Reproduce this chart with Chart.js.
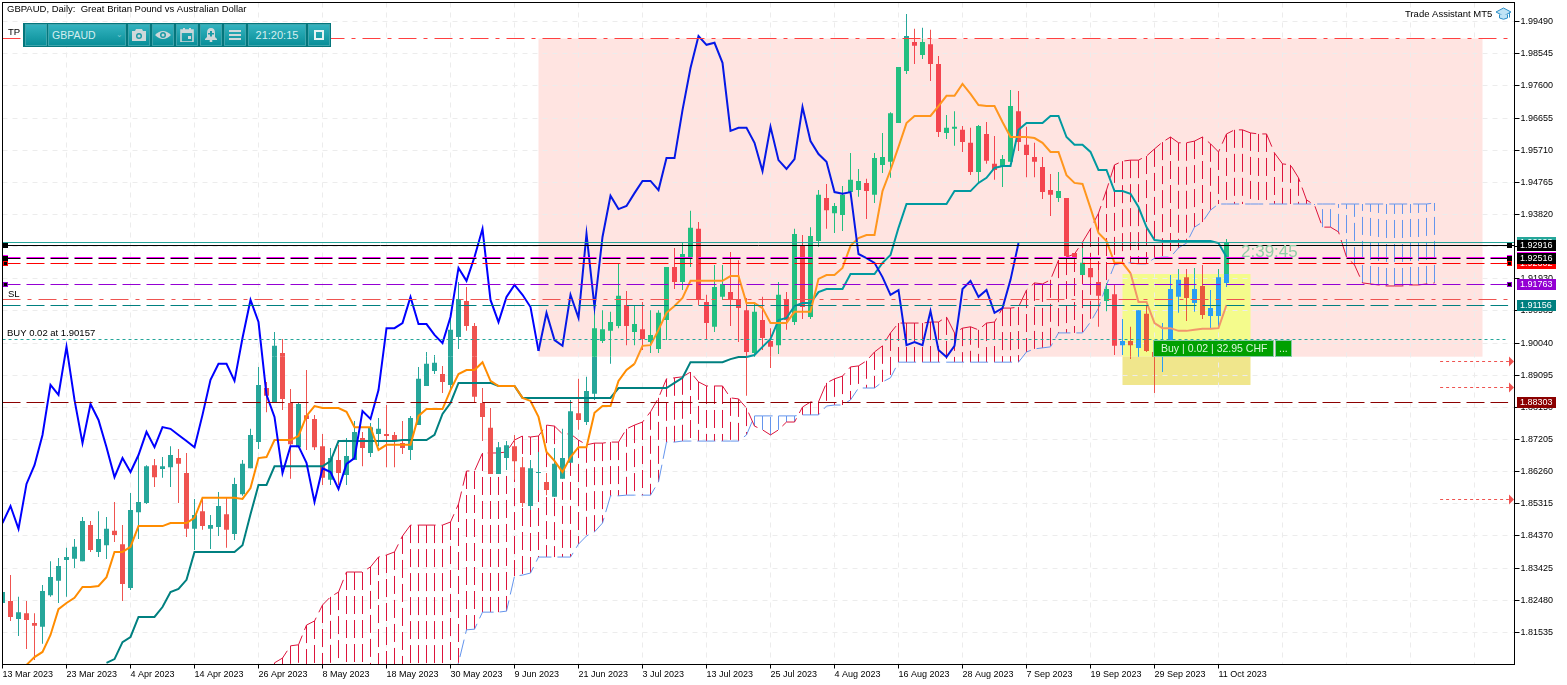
<!DOCTYPE html>
<html>
<head>
<meta charset="utf-8">
<title>GBPAUD Daily</title>
<script src="https://cdn.jsdelivr.net/npm/chart.js@4/dist/chart.umd.min.js"></script>
<style>
  html, body { margin: 0; padding: 0; background: #fff; overflow: hidden; }
  #wrap { position: relative; width: 1567px; height: 685px; }
  #myChart { position: absolute; left: 0; top: 0; }
  #toolbar { position: absolute; left: 23px; top: 23px; width: 308px; height: 24px; background: #04767c; }
  #toolbar div { position: absolute; top: 1px; height: 22px; box-sizing: border-box; border: 1px solid #3fa5ad;
    background: linear-gradient(#33b3bf, #0a8f99); color: #d4eef0; font: 10.5px "Liberation Sans", sans-serif;
    line-height: 20px; text-align: center; }
  #toolbar svg { display: block; margin: 3px auto 0; }
  #hat { position: absolute; left: 1496px; top: 7px; }
</style>
</head>
<body>
<div id="wrap">
  <canvas id="myChart" width="1567" height="685"></canvas>
  <div id="toolbar">
    <div style="left:2px;width:22px"></div>
    <div style="left:25px;width:78px;text-align:left;padding-left:3px">GBPAUD<span style="position:absolute;left:67px;top:0;color:#7cc5cc;font-size:8px">&#8964;</span></div>
    <div style="left:105px;width:22px"><svg width="14" height="14" viewBox="0 0 14 14"><path d="M0 3h3l1-2h6l1 2h3v10H0z" fill="#cfd8da"/><circle cx="7" cy="8" r="3" fill="#1a9aa5"/><circle cx="7" cy="8" r="1.6" fill="#cfd8da"/></svg></div>
    <div style="left:129px;width:22px"><svg width="16" height="14" viewBox="0 0 16 14"><path d="M0 7q8-8 16 0q-8 8-16 0z" fill="#cfd8da"/><circle cx="8" cy="7" r="3" fill="#1a9aa5"/><circle cx="8" cy="7" r="1.5" fill="#cfd8da"/></svg></div>
    <div style="left:153px;width:22px"><svg width="14" height="14" viewBox="0 0 14 14"><path d="M1 2h12v12H1z" fill="none" stroke="#cfd8da" stroke-width="1.6"/><path d="M1 2h12v3H1zM3 0h2v3H3zM9 0h2v3H9zM8 8h3v3H8z" fill="#cfd8da"/></svg></div>
    <div style="left:177px;width:22px"><svg width="14" height="14" viewBox="0 0 14 14"><path d="M7 0q4 0 4 5v4l2 2v1H1v-1l2-2V5q0-5 4-5z" fill="#cfd8da"/><circle cx="7" cy="13" r="1.4" fill="#cfd8da"/><path d="M6 3h2v2h2v1.6H8v2H6v-2H4V5h2z" fill="#1a9aa5"/></svg></div>
    <div style="left:201px;width:22px"><svg width="14" height="14" viewBox="0 0 14 14"><path d="M1 2h12v2H1zM1 6h12v2H1zM1 10h12v2H1z" fill="#cfd8da"/></svg></div>
    <div style="left:225px;width:58px;font-size:11px">21:20:15</div>
    <div style="left:285px;width:22px"><svg width="12" height="14" viewBox="0 0 12 14"><path d="M2 3h8v8H2z" fill="none" stroke="#e6f3f4" stroke-width="2"/></svg></div>
  </div>
  <svg id="hat" width="15" height="14" viewBox="0 0 15 14"><path d="M0 5l7.5-4 7.5 4-7.5 4z" fill="#bfe3f5" stroke="#2e8fc7"/><path d="M3.5 7.5v3.5q4 2.5 8 0V7.5" fill="#bfe3f5" stroke="#2e8fc7"/><path d="M13.5 5.5v5" stroke="#2e8fc7"/></svg>
</div>
<script>
// candles, one entry per day starting at 13 Mar 2023
const opens = [1.8240,1.8246,1.8193,1.8210,1.8181,1.8170,1.8263,1.8305,1.8366,1.8370,1.8363,1.8469,1.8390,1.8410,1.8452,1.8413,1.8284,1.8507,1.8534,1.8645,
  1.8634,1.8639,1.8666,1.8622,1.8458,1.8510,1.8458,1.8463,1.8501,1.8443,1.8560,1.8636,1.8713,1.8872,1.8831,1.8975,1.8828,1.8698,1.8792,1.8781,
  1.8701,1.8602,1.8660,1.8616,1.8660,1.8725,1.8681,1.8737,1.8737,1.8734,1.8710,1.8690,1.8763,1.8878,1.8922,1.8913,1.8881,1.9022,1.9128,1.9054,
  1.8828,1.8755,1.8619,1.8666,1.8701,1.8639,1.8525,1.8622,1.8596,1.8552,1.8605,1.8652,1.8798,1.8772,1.8855,1.9010,1.9040,1.9054,1.9116,1.9037,
  1.9045,1.9007,1.8987,1.9072,1.9228,1.9184,1.9257,1.9340,1.9125,1.9052,1.9140,1.9154,1.9134,1.9101,1.8975,1.9072,1.9010,1.8998,1.9134,1.9066,
  1.9290,1.9081,1.9304,1.9431,1.9386,1.9381,1.9448,1.9454,1.9475,1.9440,1.9528,1.9537,1.9651,1.9804,1.9889,1.9851,1.9883,1.9825,1.9622,1.9634,
  1.9631,1.9593,1.9507,1.9619,1.9531,1.9525,1.9537,1.9686,1.9587,1.9551,1.9522,1.9454,1.9431,1.9431,1.9269,1.9204,1.9225,1.9184,1.9128,1.9148,
  1.8998,1.9010,1.8990,1.9090,1.8978,1.8978,1.9004,1.9140,1.9198,1.9122,1.9172,1.9084,1.9084,1.9181];
const closes = [1.8272,1.8199,1.8213,1.8190,1.8173,1.8275,1.8316,1.8349,1.8375,1.8405,1.8481,1.8396,1.8428,1.8458,1.8440,1.8296,1.8513,1.8537,1.8642,1.8610,
  1.8642,1.8675,1.8649,1.8458,1.8499,1.8466,1.8469,1.8525,1.8455,1.8590,1.8649,1.8734,1.8881,1.8849,1.8996,1.8840,1.8707,1.8825,1.8781,1.8698,
  1.8608,1.8666,1.8622,1.8672,1.8743,1.8696,1.8757,1.8752,1.8731,1.8719,1.8696,1.8784,1.8899,1.8943,1.8946,1.8890,1.9043,1.9134,1.9054,1.8846,
  1.8787,1.8619,1.8698,1.8704,1.8657,1.8534,1.8636,1.8625,1.8572,1.8649,1.8666,1.8804,1.8778,1.8863,1.9048,1.9045,1.9066,1.9143,1.9054,1.9060,
  1.9016,1.9028,1.9093,1.9228,1.9184,1.9266,1.9343,1.9131,1.9063,1.9169,1.9178,1.9134,1.9107,1.8978,1.9096,1.9019,1.8993,1.9146,1.9072,1.9325,
  1.9110,1.9319,1.9440,1.9395,1.9407,1.9440,1.9484,1.9481,1.9451,1.9548,1.9551,1.9680,1.9816,1.9907,1.9878,1.9889,1.9825,1.9625,1.9637,1.9640,
  1.9595,1.9507,1.9642,1.9540,1.9513,1.9545,1.9701,1.9595,1.9557,1.9537,1.9448,1.9440,1.9451,1.9260,1.9251,1.9240,1.9198,1.9143,1.9163,1.8996,
  1.9010,1.8998,1.9101,1.8981,1.8963,1.9013,1.9163,1.9190,1.9137,1.9163,1.9087,1.9107,1.9198,1.9301];
const highs = [1.8278,1.8322,1.8258,1.8246,1.8210,1.8293,1.8363,1.8372,1.8402,1.8428,1.8493,1.8481,1.8510,1.8493,1.8537,1.8469,1.8563,1.8675,1.8645,1.8663,
  1.8669,1.8701,1.8693,1.8681,1.8546,1.8546,1.8499,1.8566,1.8549,1.8608,1.8660,1.8752,1.8934,1.8890,1.9037,1.9016,1.8869,1.8831,1.8925,1.8793,
  1.8737,1.8696,1.8705,1.8725,1.8775,1.8743,1.8769,1.8784,1.8822,1.8743,1.8775,1.8790,1.8934,1.8978,1.8969,1.8937,1.9078,1.9184,1.9169,1.9063,
  1.8872,1.8813,1.8713,1.8716,1.8734,1.8669,1.8660,1.8684,1.8622,1.8696,1.8752,1.8837,1.8899,1.8905,1.9101,1.9101,1.9096,1.9237,1.9157,1.9116,
  1.9125,1.9101,1.9101,1.9228,1.9284,1.9298,1.9393,1.9360,1.9146,1.9234,1.9234,1.9272,1.9248,1.9137,1.9125,1.9140,1.9048,1.9184,1.9154,1.9340,
  1.9322,1.9345,1.9454,1.9472,1.9416,1.9466,1.9563,1.9516,1.9487,1.9563,1.9622,1.9683,1.9816,1.9972,1.9928,1.9931,1.9925,1.9848,1.9675,1.9686,
  1.9642,1.9637,1.9645,1.9654,1.9613,1.9557,1.9748,1.9745,1.9640,1.9593,1.9551,1.9501,1.9507,1.9431,1.9269,1.9284,1.9248,1.9219,1.9181,1.9175,
  1.9075,1.9052,1.9101,1.9116,1.9013,1.9063,1.9204,1.9222,1.9222,1.9225,1.9234,1.9160,1.9222,1.9310];
const lows = [1.8190,1.8187,1.8143,1.8105,1.8072,1.8120,1.8258,1.8240,1.8258,1.8343,1.8363,1.8390,1.8375,1.8369,1.8419,1.8246,1.8278,1.8428,1.8531,1.8581,
  1.8608,1.8581,1.8534,1.8434,1.8396,1.8455,1.8399,1.8437,1.8402,1.8425,1.8555,1.8636,1.8693,1.8801,1.8831,1.8807,1.8605,1.8698,1.8690,1.8690,
  1.8587,1.8587,1.8587,1.8587,1.8660,1.8642,1.8669,1.8701,1.8639,1.8639,1.8678,1.8660,1.8763,1.8878,1.8913,1.8857,1.8866,1.8987,1.9040,1.8828,
  1.8716,1.8619,1.8619,1.8631,1.8602,1.8522,1.8513,1.8572,1.8557,1.8552,1.8605,1.8652,1.8749,1.8763,1.8837,1.9004,1.8943,1.9048,1.8998,1.8998,
  1.8984,1.8975,1.8975,1.9013,1.9163,1.9160,1.9228,1.9116,1.9013,1.9037,1.9131,1.9054,1.9007,1.8849,1.8963,1.8984,1.8931,1.8972,1.9043,1.9057,
  1.9075,1.9075,1.9287,1.9340,1.9328,1.9334,1.9448,1.9434,1.9369,1.9416,1.9504,1.9490,1.9651,1.9795,1.9825,1.9839,1.9775,1.9610,1.9604,1.9584,
  1.9566,1.9498,1.9478,1.9531,1.9484,1.9463,1.9537,1.9569,1.9492,1.9492,1.9428,1.9378,1.9419,1.9254,1.9248,1.9204,1.9181,1.9052,1.9098,1.8969,
  1.8969,1.8957,1.8963,1.8978,1.8857,1.8919,1.8998,1.9093,1.9069,1.9096,1.9075,1.9046,1.9046,1.9169];

// ichimoku lines
const chikou = [1.8475,1.8525,1.8458,1.8590,1.8645,1.8734,1.8881,1.8852,1.8993,1.8837,1.8710,1.8825,1.8778,1.8698,1.8610,1.8666,1.8625,1.8675,1.8743,1.8698,
  1.8757,1.8752,1.8734,1.8716,1.8698,1.8793,1.8896,1.8943,1.8943,1.8893,1.9019,1.9131,1.9066,1.8852,1.8787,1.8622,1.8701,1.8701,1.8652,1.8537,
  1.8636,1.8625,1.8575,1.8649,1.8666,1.8804,1.8781,1.8866,1.9048,1.9048,1.9063,1.9140,1.9060,1.9060,1.9028,1.9004,1.9081,1.9225,1.9187,1.9257,
  1.9340,1.9131,1.9066,1.9140,1.9175,1.9146,1.9110,1.8981,1.9093,1.9013,1.8996,1.9146,1.9078,1.9325,1.9110,1.9316,1.9437,1.9398,1.9407,1.9445,
  1.9481,1.9481,1.9454,1.9548,1.9548,1.9689,1.9813,1.9907,1.9881,1.9887,1.9828,1.9628,1.9637,1.9637,1.9593,1.9510,1.9640,1.9542,1.9516,1.9545,
  1.9698,1.9598,1.9560,1.9537,1.9448,1.9443,1.9448,1.9266,1.9254,1.9240,1.9198,1.9146,1.9160,1.8998,1.9007,1.8998,1.9098,1.8984,1.8963,1.8996,
  1.9163,1.9187,1.9140,1.9160,1.9093,1.9107,1.9190,1.9298];
const tenkanStart = 3;
const tenkan = [1.8058,1.8081,1.8096,1.8146,1.8222,1.8240,1.8255,1.8287,1.8287,1.8290,1.8316,1.8390,1.8390,1.8405,1.8466,1.8466,1.8466,1.8466,1.8475,1.8475,
  1.8475,1.8490,1.8549,1.8549,1.8549,1.8549,1.8549,1.8546,1.8578,1.8666,1.8669,1.8719,1.8719,1.8719,1.8731,1.8790,1.8819,1.8813,1.8813,1.8813,
  1.8802,1.8757,1.8757,1.8757,1.8690,1.8705,1.8705,1.8705,1.8705,1.8790,1.8810,1.8810,1.8810,1.8866,1.8913,1.8925,1.8925,1.8948,1.8893,1.8878,
  1.8878,1.8878,1.8843,1.8834,1.8787,1.8684,1.8658,1.8625,1.8669,1.8698,1.8698,1.8799,1.8819,1.8819,1.8893,1.8925,1.8943,1.8996,1.8998,1.9043,
  1.9093,1.9113,1.9137,1.9187,1.9187,1.9187,1.9187,1.9187,1.9201,1.9201,1.9122,1.9122,1.9107,1.9063,1.9063,1.9063,1.9096,1.9096,1.9096,1.9193,
  1.9204,1.9204,1.9225,1.9290,1.9313,1.9322,1.9322,1.9451,1.9513,1.9581,1.9651,1.9672,1.9672,1.9672,1.9701,1.9731,1.9731,1.9766,1.9737,1.9704,
  1.9701,1.9701,1.9654,1.9610,1.9610,1.9610,1.9607,1.9593,1.9566,1.9566,1.9498,1.9475,1.9472,1.9401,1.9328,1.9304,1.9240,1.9240,1.9210,1.9125,
  1.9125,1.9063,1.9048,1.9048,1.9040,1.9040,1.9043,1.9046,1.9046,1.9048,1.9116];
const kijunStart = 13;
const kijun = [1.8064,1.8075,1.8125,1.8140,1.8199,1.8199,1.8199,1.8228,1.8272,1.8281,1.8308,1.8390,1.8390,1.8390,1.8390,1.8390,1.8390,1.8410,1.8501,1.8587,
  1.8587,1.8642,1.8642,1.8642,1.8642,1.8642,1.8642,1.8642,1.8657,1.8716,1.8716,1.8716,1.8716,1.8716,1.8716,1.8716,1.8716,1.8719,1.8719,1.8719,
  1.8719,1.8734,1.8796,1.8828,1.8887,1.8887,1.8887,1.8887,1.8887,1.8878,1.8878,1.8878,1.8843,1.8843,1.8843,1.8843,1.8843,1.8843,1.8843,1.8843,
  1.8843,1.8843,1.8843,1.8843,1.8872,1.8872,1.8872,1.8872,1.8872,1.8872,1.8872,1.8887,1.8902,1.8948,1.8948,1.8948,1.8948,1.8948,1.8957,1.8963,
  1.8963,1.8969,1.8993,1.9016,1.9072,1.9078,1.9113,1.9122,1.9122,1.9154,1.9163,1.9163,1.9163,1.9207,1.9207,1.9207,1.9207,1.9240,1.9263,1.9343,
  1.9413,1.9413,1.9413,1.9413,1.9413,1.9413,1.9451,1.9451,1.9451,1.9475,1.9490,1.9519,1.9525,1.9525,1.9631,1.9651,1.9651,1.9651,1.9672,1.9672,
  1.9610,1.9587,1.9587,1.9566,1.9513,1.9513,1.9451,1.9451,1.9443,1.9404,1.9345,1.9307,1.9304,1.9304,1.9304,1.9304,1.9304,1.9304,1.9304,1.9298,1.9257];
const cloudStart = 34;
const senkouA = [1.8064,1.8078,1.8114,1.8117,1.8175,1.8187,1.8234,1.8258,1.8272,1.8331,1.8331,1.8331,1.8346,1.8375,1.8381,1.8390,1.8437,1.8469,1.8469,1.8469,
  1.8469,1.8469,1.8478,1.8531,1.8628,1.8628,1.8681,1.8681,1.8681,1.8684,1.8719,1.8731,1.8728,1.8731,1.8763,1.8760,1.8737,1.8737,1.8719,1.8705,
  1.8710,1.8710,1.8713,1.8713,1.8752,1.8763,1.8772,1.8802,1.8843,1.8899,1.8902,1.8905,1.8919,1.8890,1.8878,1.8878,1.8878,1.8843,1.8840,1.8813,
  1.8760,1.8749,1.8734,1.8749,1.8772,1.8772,1.8816,1.8831,1.8831,1.8887,1.8899,1.8907,1.8934,1.8937,1.8952,1.8978,1.8996,1.9034,1.9063,1.9063,
  1.9063,1.9063,1.9066,1.9066,1.9081,1.9034,1.9048,1.9052,1.9043,1.9063,1.9066,1.9107,1.9107,1.9110,1.9160,1.9181,1.9178,1.9190,1.9248,1.9257,
  1.9266,1.9301,1.9340,1.9386,1.9454,1.9528,1.9539,1.9542,1.9542,1.9554,1.9575,1.9595,1.9610,1.9593,1.9593,1.9598,1.9610,1.9590,1.9566,1.9619,
  1.9631,1.9631,1.9622,1.9619,1.9619,1.9563,1.9531,1.9528,1.9490,1.9425,1.9410,1.9345,1.9345,1.9331,1.9257,1.9234,1.9181,1.9178,1.9175,1.9172,
  1.9172,1.9172,1.9175,1.9175,1.9178,1.9181];
const senkouB = [1.7650,1.7650,1.7700,1.7700,1.7700,1.7700,1.7720,1.7720,1.7750,1.7780,1.7780,1.7780,1.7780,1.7800,1.7830,1.7850,1.7850,1.7870,1.7900,1.7920,
  1.7920,1.7950,1.8000,1.8064,1.8161,1.8163,1.8213,1.8213,1.8213,1.8216,1.8319,1.8322,1.8328,1.8375,1.8375,1.8375,1.8375,1.8375,1.8413,1.8437,
  1.8449,1.8475,1.8555,1.8555,1.8557,1.8557,1.8557,1.8557,1.8596,1.8713,1.8713,1.8716,1.8716,1.8716,1.8716,1.8716,1.8716,1.8716,1.8716,1.8734,
  1.8790,1.8790,1.8790,1.8790,1.8790,1.8790,1.8793,1.8793,1.8793,1.8819,1.8822,1.8822,1.8837,1.8872,1.8872,1.8872,1.8890,1.8902,1.8948,1.8948,
  1.8948,1.8948,1.8948,1.8948,1.8948,1.8948,1.8948,1.8948,1.8948,1.8948,1.8948,1.8948,1.8948,1.8948,1.8978,1.8987,1.8990,1.8993,1.9034,1.9034,
  1.9034,1.9034,1.9066,1.9107,1.9175,1.9234,1.9240,1.9240,1.9237,1.9237,1.9254,1.9257,1.9257,1.9284,1.9298,1.9345,1.9360,1.9395,1.9413,1.9413,
  1.9413,1.9413,1.9413,1.9413,1.9413,1.9413,1.9413,1.9413,1.9413,1.9413,1.9413,1.9413,1.9413,1.9413,1.9413,1.9413,1.9413,1.9413,1.9413,1.9413,
  1.9413,1.9413,1.9413,1.9413,1.9413,1.9416];

// axes
const priceTicks = [1.99490,1.98545,1.97600,1.96655,1.95710,1.94765,1.93820,1.92875,1.91930,1.90985,1.90040,1.89095,1.88150,1.87205,1.86260,1.85315,1.84370,1.83425,1.82480,1.81535];
const dateLabels = ['13 Mar 2023','23 Mar 2023','4 Apr 2023','14 Apr 2023','26 Apr 2023','8 May 2023','18 May 2023','30 May 2023','9 Jun 2023','21 Jun 2023',
  '3 Jul 2023','13 Jul 2023','25 Jul 2023','4 Aug 2023','16 Aug 2023','28 Aug 2023','7 Sep 2023','19 Sep 2023','29 Sep 2023','11 Oct 2023'];
const dateStep = 8, lastGridBar = 184;
const priceMin = 1.80591, priceMax = 2.000545, barMax = 189;

// horizontal levels
const levelPrices = [1.98996, 1.92993, 1.92916, 1.92558, 1.92516, 1.92382, 1.91763, 1.91323, 1.91156, 1.90157, 1.88303];
const levelStyles = [
  ['#ff4040', [18,7,4,7]], ['#26a69a', []], ['#000000', []], ['#ff00ff', [18,6]], ['#000000', [18,6]], ['#ff0000', [18,6]],
  ['#9400d3', [18,6]], ['#ef5350', [18,7,4,7]], ['#008080', [18,6]], ['#26a69a', [3,3]], ['#8b0000', [18,6]]
];
const arrowPrices = [1.89506, 1.88741, 1.85449];

// price flags on the right edge
const flagPrices = [1.92993, 1.92382, 1.92558, 1.92916, 1.92516, 1.91763, 1.91156, 1.88303];
const flagTexts = ['1.92993', '1.92302', '1.92558', '1.92916', '1.92516', '1.91763', '1.91156', '1.88303'];
const flagColors = ['#26a69a', '#ff0000', '#ff00ff', '#000000', '#000000', '#9400d3', '#008080', '#8b0000'];

// zones
const pinkFrom = 67, pinkTo = 185, pinkTop = 1.98996, pinkBottom = 1.89641;
const yellowFrom = 140, yellowTo = 156, yellowTop = 1.92072, yellowBottom = 1.88809;

const FONT = '"Liberation Sans", Arial, sans-serif';

function zoneOf(i, price) {
  if (i >= yellowFrom && i <= yellowTo && price <= yellowTop && price >= yellowBottom) return 'yellow';
  if (i >= pinkFrom && i <= pinkTo && price <= pinkTop && price >= pinkBottom) return 'pink';
  return 'plain';
}

const upColors = { plain: '#26a69a', pink: '#22bf80', yellow: '#2a9df4' };
const downColors = { plain: '#ef5350', pink: '#f4454f', yellow: '#e85a3c' };

// a candle crossing a zone edge changes colour there, so cut it into pieces
function pieces(loArr, hiArr) {
  const out = [];
  const cuts = [pinkBottom, yellowTop, yellowBottom, pinkTop];
  opens.forEach((o, i) => {
    const lo = loArr[i], hi = hiArr[i];
    const colors = closes[i] >= o ? upColors : downColors;
    const edges = [lo, ...cuts.filter(c => c > lo && c < hi), hi].sort((a, b) => a - b);
    for (let k = 0; k < edges.length - 1; k++) {
      out.push({ x: i, y: [edges[k], edges[k + 1]], color: colors[zoneOf(i, (edges[k] + edges[k + 1]) / 2)] });
    }
  });
  return out;
}

function points(series, start) {
  return series.map((y, i) => ({ x: i + start, y: y }));
}

// vertical strokes between the two senkou lines
function hatch(wantRed) {
  const out = [];
  senkouA.forEach((a, k) => {
    const b = senkouB[k], x = k + cloudStart;
    if ((a >= b) === wantRed) {
      out.push({ x: x, y: a }, { x: x, y: b }, { x: x, y: null });
    }
  });
  return out;
}

function zoneLine(colors) {
  return c => colors[zoneOf((c.p0.parsed.x + c.p1.parsed.x) / 2, (c.p0.parsed.y + c.p1.parsed.y) / 2)];
}

function line(label, data, color, width, order, extra) {
  return Object.assign({
    type: 'line', label: label, data: data, borderColor: color, borderWidth: width,
    pointRadius: 0, tension: 0, fill: false, order: order
  }, extra || {});
}

function bars(label, data, thickness, order) {
  return {
    type: 'bar', label: label, data: data, barThickness: thickness, grouped: false, inflateAmount: 0,
    backgroundColor: c => c.raw ? c.raw.color : '#000', borderWidth: 0, order: order
  };
}

const bodyLo = opens.map((o, i) => Math.min(o, closes[i]));
const bodyHi = opens.map((o, i) => Math.max(o, closes[i]));

const overlay = {
  id: 'overlay',
  beforeDraw(chart) {
    const { ctx, scales: { x, y } } = chart;
    ctx.save();
    ctx.fillStyle = '#ffffff';
    ctx.fillRect(0, 0, chart.width, chart.height);
    ctx.fillStyle = '#ffe4e1';
    ctx.fillRect(x.getPixelForValue(pinkFrom), y.getPixelForValue(pinkTop),
      x.getPixelForValue(pinkTo) - x.getPixelForValue(pinkFrom), y.getPixelForValue(pinkBottom) - y.getPixelForValue(pinkTop));
    const yl = x.getPixelForValue(yellowFrom), yw = x.getPixelForValue(yellowTo) - yl;
    ctx.fillStyle = '#f4fb8c';
    ctx.fillRect(yl, y.getPixelForValue(yellowTop), yw, y.getPixelForValue(pinkBottom) - y.getPixelForValue(yellowTop));
    ctx.fillStyle = '#f0e68c';
    ctx.fillRect(yl, y.getPixelForValue(pinkBottom), yw, y.getPixelForValue(yellowBottom) - y.getPixelForValue(pinkBottom));
    ctx.restore();
  },
  afterDatasetsDraw(chart) {
    const { ctx, chartArea: area, scales: { x, y } } = chart;
    const endX = x.getPixelForValue(188.2);
    ctx.save();
    ctx.lineWidth = 1;
    levelPrices.forEach((p, i) => {
      const py = Math.floor(y.getPixelForValue(p)) + 0.5;
      ctx.strokeStyle = levelStyles[i][0];
      ctx.setLineDash(levelStyles[i][1]);
      ctx.beginPath();
      ctx.moveTo(area.left, py);
      ctx.lineTo(levelStyles[i][1].length === 0 ? area.right : endX, py);
      ctx.stroke();
    });
    // pending order arrows
    arrowPrices.forEach(p => {
      const py = Math.floor(y.getPixelForValue(p)) + 0.5;
      ctx.strokeStyle = '#ef5350';
      ctx.setLineDash([3, 3]);
      ctx.beginPath();
      ctx.moveTo(x.getPixelForValue(179.7), py);
      ctx.lineTo(x.getPixelForValue(188.3), py);
      ctx.stroke();
      ctx.fillStyle = '#ef5350';
      ctx.beginPath();
      ctx.moveTo(1509, py - 5);
      ctx.lineTo(1514, py);
      ctx.lineTo(1509, py + 5);
      ctx.fill();
    });
    ctx.restore();
  },
  afterDraw(chart) {
    const { ctx, chartArea: area, scales: { y } } = chart;
    ctx.save();
    ctx.strokeStyle = '#000';
    ctx.lineWidth = 1;
    ctx.strokeRect(area.left, area.top, area.right - area.left, area.bottom - area.top);

    // small handles at both ends of the levels
    [[1.92916, '#000', '#000'], [1.92382, '#ff0000', '#000'], [1.92558, '#ff00ff', '#000'], [1.92516, '#000', '#000'], [1.91763, '#9400d3', '#000']].forEach(h => {
      const py = Math.floor(y.getPixelForValue(h[0]));
      [3, 1507].forEach(hx => {
        ctx.fillStyle = h[1];
        ctx.fillRect(hx, py - 2, 5, 5);
        ctx.fillStyle = h[2];
        ctx.fillRect(hx + 1, py - 1, 3, 3);
      });
    });

    // flags
    flagPrices.forEach((p, i) => {
      const py = Math.floor(y.getPixelForValue(p));
      ctx.fillStyle = flagColors[i];
      ctx.fillRect(1517, py - 5, 39, 11);
      ctx.fillStyle = '#fff';
      ctx.font = '9px ' + FONT;
      ctx.textAlign = 'left';
      ctx.textBaseline = 'middle';
      ctx.fillText(flagTexts[i], 1520, py + 0.5);
    });

    // chart texts
    ctx.fillStyle = '#000';
    ctx.textBaseline = 'middle';
    ctx.font = '9.5px ' + FONT;
    ctx.fillText('GBPAUD, Daily:  Great Britan Pound vs Australian Dollar', 7, 9.5);
    ctx.fillText('TP', 8, 32.5);
    ctx.fillText('SL', 8, 294);
    ctx.fillText('BUY 0.02 at 1.90157', 7, 333.5);
    ctx.fillText('Trade Assistant MT5', 1405, 14);

    ctx.font = '17px ' + FONT;
    ctx.fillStyle = '#8fcea6';
    ctx.fillText('2:39:45', 1241, 252);

    // open position box
    ctx.fillStyle = '#00a000';
    ctx.strokeStyle = '#86c8a8';
    ctx.fillRect(1153.5, 341, 120, 16);
    ctx.fillRect(1275.5, 341, 16, 16);
    ctx.strokeRect(1153.5, 340.5, 120, 16);
    ctx.strokeRect(1275.5, 340.5, 16, 16);
    ctx.fillStyle = '#d8f5d8';
    ctx.font = '10.5px ' + FONT;
    ctx.fillText('Buy | 0.02 | 32.95 CHF', 1161, 349);
    ctx.fillText('...', 1279, 349);
    ctx.restore();
  }
};

const chart = new Chart(document.getElementById('myChart'), {
  data: {
    datasets: [
      line('Hatch red', hatch(true), '#dc143c', 1, 60, { borderDash: [18, 6], spanGaps: false }),
      line('Hatch blue', hatch(false), '#6495ed', 1, 60, { borderDash: [18, 6], spanGaps: false }),
      line('Senkou A', points(senkouA, cloudStart), '#dc143c', 1, 55, { borderDash: [18, 6] }),
      line('Senkou B', points(senkouB, cloudStart), '#6495ed', 1, 55, { borderDash: [18, 6] }),
      bars('Wicks', pieces(lows, highs), 1, 40),
      bars('Bodies', pieces(bodyLo, bodyHi), 5, 30),
      line('Kijun', points(kijun, kijunStart), '#008080', 2, 22, { segment: { borderColor: zoneLine({ plain: '#008080', pink: '#0099a0', yellow: '#0099a0' }) } }),
      line('Tenkan', points(tenkan, tenkanStart), '#ff8c00', 2, 21, { segment: { borderColor: zoneLine({ plain: '#ff8c00', pink: '#ff961e', yellow: '#f2956b' }) } }),
      line('Chikou', points(chikou, 0), '#0000ff', 2, 20, { segment: { borderColor: zoneLine({ plain: '#0000ff', pink: '#0518e6', yellow: '#0518e6' }) } })
    ]
  },
  plugins: [overlay],
  options: {
    responsive: false,
    animation: false,
    events: [],
    layout: { padding: { left: 2.5, top: 2.5, right: 0, bottom: 0 } },
    plugins: { legend: { display: false }, tooltip: { enabled: false } },
    scales: {
      x: {
        type: 'linear',
        offset: false,
        min: 0,
        max: barMax,
        afterFit: s => { s.height = 20.5; s.paddingLeft = 0; s.paddingRight = 0; },
        afterBuildTicks: s => {
          const t = [];
          for (let v = 0; v <= lastGridBar; v += dateStep) t.push({ value: v });
          s.ticks = t;
        },
        grid: {
          offset: false,
          color: '#ececec',
          tickColor: c => (c.tick && dateLabels[c.tick.value / dateStep] ? '#000' : 'rgba(0,0,0,0)'),
          tickLength: 4,
          tickBorderDash: []
        },
        border: { display: true, color: '#000', dash: [5, 5] },
        ticks: {
          autoSkip: false,
          maxRotation: 0,
          align: 'start',
          padding: 1,
          color: '#000',
          font: { family: FONT, size: 9 },
          callback: v => dateLabels[v / dateStep] || ''
        }
      },
      y: {
        type: 'linear',
        position: 'right',
        min: priceMin,
        max: priceMax,
        afterFit: s => { s.width = 52.5; s.paddingTop = 0; s.paddingBottom = 0; },
        afterBuildTicks: s => { s.ticks = priceTicks.map(v => ({ value: v })); },
        grid: { color: '#ececec', tickColor: '#000', tickLength: 5, tickBorderDash: [] },
        border: { display: true, color: '#000', dash: [5, 5] },
        ticks: {
          autoSkip: false,
          padding: 1,
          color: '#000',
          font: { family: FONT, size: 9 },
          callback: v => v.toFixed(5)
        }
      }
    }
  }
});
</script>
</body>
</html>
